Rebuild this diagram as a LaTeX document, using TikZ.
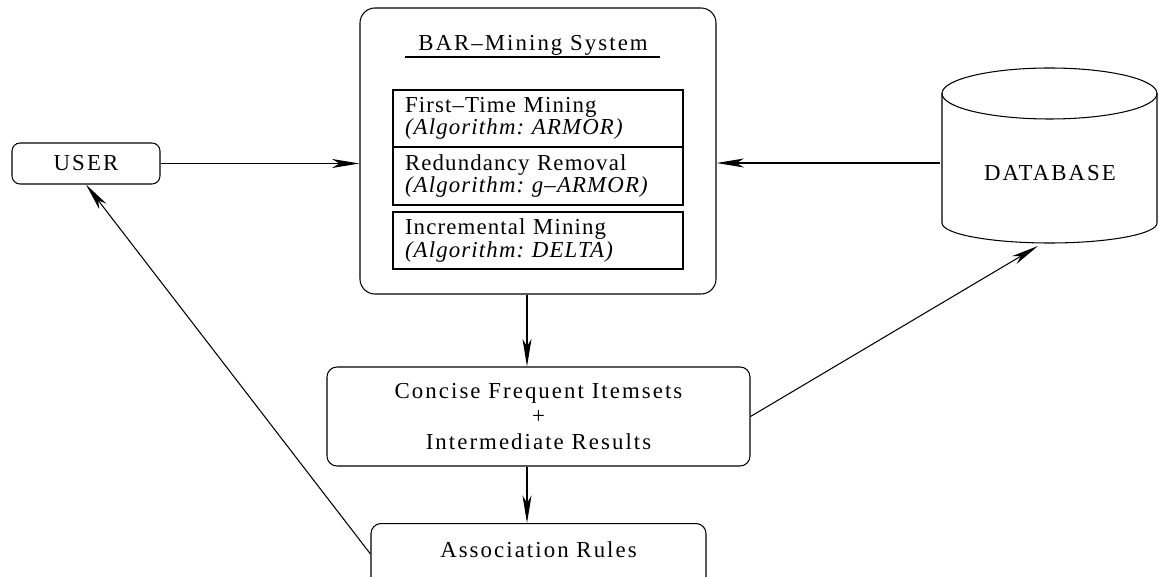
\documentclass[tikz,border=0pt]{standalone}
\usepackage{fontspec}
\setmainfont{Liberation Serif}
\newfontfamily\widefont[LetterSpace=9,Ligatures=TeX]{Liberation Serif}
\newfontfamily\innerfont[LetterSpace=5,Ligatures=TeX]{Liberation Serif}
\usetikzlibrary{arrows.meta}
\frenchspacing
\begin{document}
\begin{tikzpicture}[x=0.2mm,y=-0.2mm,
  every node/.style={font=\widefont\fontsize{13}{14.5}\selectfont},
  line width=0.6pt,
  rbox/.style={draw, rounded corners=2.4mm, inner sep=0pt},
  sbox/.style={draw, minimum width=58mm, text width=53.2mm, inner xsep=2.4mm, inner ysep=0pt, align=left, font=\innerfont\fontsize{13}{12.6}\selectfont},
  arr/.style={-{Stealth[length=5.5mm,width=1.8mm,inset=1.5mm]}}]
\useasboundingbox (0,0) rectangle (1159,577);
\clip (0,0) rectangle (1159,577);
% BAR system
\node[rbox, rounded corners=3mm, minimum width=71.2mm, minimum height=57.2mm] (bar) at (538,151) {};
\node (title) at (533,45) {BAR–Mining System};
\draw (405,57) -- (660,57);
\node[sbox, minimum height=11.4mm] (m1) at (538,118.5) {First–Time Mining\\\textit{(Algorithm: ARMOR)}};
\node[sbox, minimum height=11.6mm] (m2) at (538,176) {Redundancy Removal\\\textit{(Algorithm: g–ARMOR)}};
\node[sbox, minimum height=11.4mm] (m3) at (538,240.5) {Incremental Mining\\\textit{(Algorithm: DELTA)}};
% USER
\node[rbox, rounded corners=1.6mm, minimum width=29.6mm, minimum height=8.2mm] (user) at (86,163.5) {USER};
% DATABASE
\draw (942,93.5) -- (942,223) .. controls (942,234) and (990.2,243) .. (1049.5,243) .. controls (1108.8,243) and (1157,234) .. (1157,223) -- (1157,93.5);
\draw (1049.5,93.5) ellipse [x radius=21.5mm, y radius=5.1mm];
\node (db) at (1050,173) {DATABASE};
\coordinate (dbw) at (940,163);
\coordinate (dbs) at (1038,246);
% Concise
\node[rbox, rounded corners=2mm, minimum width=84.6mm, minimum height=19.8mm, align=center] (conc) at (538.5,416.5) {Concise Frequent Itemsets\\+\\Intermediate Results};
% Association rules
\node[rbox, rounded corners=2mm, anchor=north, minimum width=67mm, text height=6.8mm, text depth=12mm] (assoc) at (538.5,523) {Association Rules};
% arrows
\draw[arr] (user.east) -- (user.east -| bar.west);
\draw[arr] (dbw) -- (dbw -| bar.east);
\draw[arr] ([xshift=-2.2mm]bar.south) -- ([xshift=-2.2mm]bar.south |- conc.north);
\draw[arr] ([xshift=-2.3mm]conc.south) -- ([xshift=-2.3mm]conc.south |- assoc.north);
\draw[arr] ([yshift=-6.2mm]assoc.north west) -- (user.south);
\draw[arr] (conc.east) -- (dbs);
\end{tikzpicture}
\end{document}
